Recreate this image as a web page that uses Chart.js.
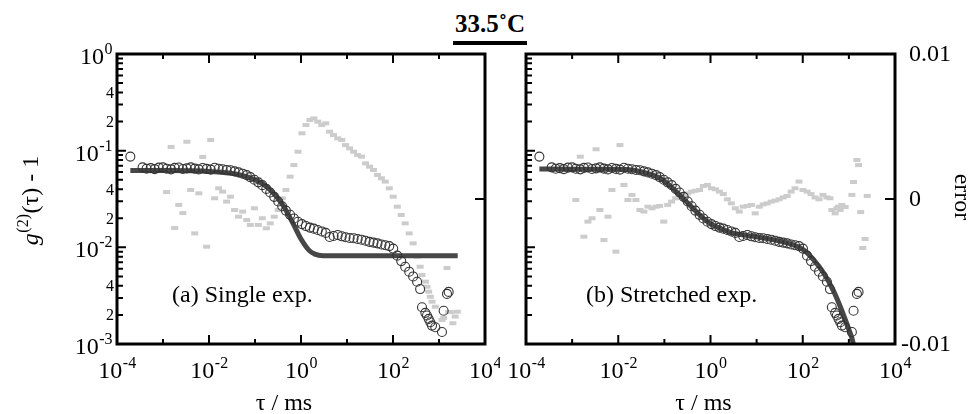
<!DOCTYPE html>
<html>
<head>
<meta charset="utf-8">
<script src="https://cdn.jsdelivr.net/npm/chart.js@4.4.1/dist/chart.umd.min.js"></script>
<style>
  html, body { margin: 0; padding: 0; background: #fff; }
  body { width: 970px; height: 414px; position: relative; overflow: hidden; font-family: "Liberation Serif", "Times New Roman", serif; }
  canvas { position: absolute; top: 0; }
  #chartA { left: 0; }
  #chartB { left: 500px; }
  #title { position: absolute; left: 445px; width: 90px; top: 11px; text-align: center; font-weight: bold; font-size: 25px; line-height: 25px; color: #000; }
  #bar { position: absolute; left: 453px; width: 74px; top: 41px; height: 4px; background: #000; }
</style>
</head>
<body>
<div id="title">33.5˚C</div>
<div id="bar"></div>
<canvas id="chartA" width="500" height="414"></canvas>
<canvas id="chartB" width="470" height="414"></canvas>
<script>
// lag time (ms) of the measured correlation function
const tau = [
  1.95e-4, 3.6e-4, 4.4e-4, 5.4e-4, 6.6e-4, 8.1e-4, 1.0e-3, 1.2e-3, 1.5e-3, 1.8e-3,
  2.2e-3, 2.7e-3, 3.3e-3, 4.0e-3, 4.9e-3, 6.0e-3, 7.3e-3, 8.9e-3, 1.09e-2, 1.33e-2,
  1.62e-2, 1.98e-2, 2.42e-2, 2.95e-2, 3.6e-2, 4.4e-2, 5.4e-2, 6.6e-2, 7.9e-2, 0.097,
  0.118, 0.144, 0.176, 0.214, 0.262, 0.32, 0.39, 0.47, 0.58, 0.70,
  0.86, 1.05, 1.28, 1.56, 1.90, 2.32, 2.83, 3.45, 4.2, 5.1,
  6.3, 7.7, 9.3, 11.4, 13.9, 17.0, 20.7, 25.3, 30.8, 37.6,
  45.9, 56, 68, 83, 101, 124, 151, 184, 225, 274,
  334, 389, 427, 505, 548, 596, 648, 705, 831, 1161,
  1262, 1493, 1622, 1800, 2000, 2250, 2500
];
// g2(tau) - 1, measured (null = below the plotted range)
const g2 = [
  0.0868, 0.0672, 0.0651, 0.0660, 0.0645, 0.0668, 0.0672, 0.0650, 0.0641, 0.0663,
  0.0669, 0.0647, 0.0656, 0.0672, 0.0652, 0.0640, 0.0661, 0.0648, 0.0637, 0.0666,
  0.0650, 0.0643, 0.0632, 0.0628, 0.0611, 0.0596, 0.0578, 0.0558, 0.0533, 0.0500,
  0.0470, 0.0440, 0.0402, 0.0369, 0.0333, 0.0298, 0.0266, 0.0240, 0.0217, 0.0199,
  0.0184, 0.0174, 0.0166, 0.0160, 0.0156, 0.0151, 0.0146, 0.0141, 0.0128, 0.0131,
  0.0134, 0.0130, 0.0127, 0.0125, 0.0124, 0.0122, 0.0120, 0.0117, 0.0114, 0.0112,
  0.0110, 0.0107, 0.0105, 0.0103, 0.0097, 0.0082, 0.0072, 0.0063, 0.0056, 0.0050,
  0.0044, 0.0037, 0.0024, 0.0021, 0.00197, 0.00182, 0.00168, 0.00155, 0.00149, 0.00133,
  0.00221, 0.0033, 0.00346, null, null, null, null
];
// residuals of the single exponential fit
const errSingle = [
  null, null, null, null, null, null, null, 0.00048, 0.00359, -0.0020,
  -0.00041, -0.00097, 0.00395, 0.00062, -0.00237, 0.00039, 0.0029, -0.00329, 0.00407, 0.00005,
  0.00074, 0.00051, -0.00018, 0.00016, -0.00076, -0.00122, -0.00087, -0.00145, -0.00179, -0.00064,
  -0.00179, -0.00133, -0.00202, -0.00168, -0.00122, -0.00076, 0.00005, 0.00062, 0.00154, 0.00234,
  0.00326, 0.00453, 0.0051, 0.00545, 0.00556, 0.00533, 0.0051, 0.00522, 0.00464, 0.00441,
  0.00418, 0.00407, 0.00372, 0.00349, 0.00326, 0.00303, 0.00292, 0.00246, 0.00223, 0.0020,
  0.00166, 0.00143, 0.0012, 0.00074, 0.00016, -0.00053, -0.0011, -0.00168, -0.00237, -0.00306,
  -0.00398, -0.00467, -0.00524, -0.0057, -0.00605, -0.00639, -0.00674, -0.00708, -0.00743, -0.00834,
  -0.0082, -0.00476, -0.00779, -0.0078, -0.00857, -0.00811, -0.00777
];
// residuals of the stretched exponential fit
const errStretched = [
  null, null, null, null, null, null, null, -0.00007, 0.00292, -0.0026,
  -0.00156, -0.00133, 0.00343, -0.00076, -0.00283, -0.00122, 0.00062, -0.00363, 0.00372, 0.00097,
  -0.00007, 0.00028, -0.00007, -0.00076, -0.00087, -0.00053, -0.00064, -0.00053, -0.00048, -0.00156,
  -0.00041, -0.00018, 0.00005, 0.00016, 0.00028, 0.00039, 0.00051, 0.00057, 0.00062, 0.0009,
  0.00097, 0.00074, 0.00067, 0.00051, 0.00034, -0.00002, -0.0003, -0.00064, -0.00087, -0.00053,
  -0.00048, -0.00041, -0.00099, -0.00053, -0.00037, -0.0003, -0.00018, -0.00011, -0.00002, 0.00011,
  0.00021, 0.00051, 0.00074, 0.0012, 0.00062, 0.00051, 0.00034, 0.00011, -0.00002, 0.00028,
  0.00011, 0.00005, -0.00076, -0.00099, -0.00064, -0.00053, -0.00076, -0.00041, -0.00055, 0.00028,
  0.00117, 0.00269, 0.00234, -0.0009, -0.00338, -0.00276, 0.00021
];
// fitted curves
const fitSingleTau = [1.95e-4, 1e-3, 1e-2, 3e-2, 5e-2, 0.1, 0.15, 0.2, 0.3, 0.4, 0.5, 0.7, 1.0, 1.5, 2.0, 3.0, 10, 100, 1000, 2550];
const fitSingleG2 = [0.0624, 0.0623, 0.0610, 0.0583, 0.0558, 0.0500, 0.0450, 0.0405, 0.0331, 0.0275, 0.0230, 0.0170, 0.0122, 0.0093, 0.0085, 0.0082, 0.0082, 0.0082, 0.0082, 0.0082];
const fitStretchedTau = [1.95e-4, 1e-3, 5e-3, 1.49e-2, 3.44e-2, 7.93e-2, 0.154, 0.300, 0.586, 0.968, 1.60, 3.11, 8.47, 23.0, 62.6, 103, 171, 281, 464, 705, 984, 1222, 1400];
const fitStretchedG2 = [0.0645, 0.0644, 0.0642, 0.0639, 0.0600, 0.0521, 0.0406, 0.0296, 0.0216, 0.0177, 0.0158, 0.0140, 0.0130, 0.0120, 0.0106, 0.00946, 0.00748, 0.00546, 0.00354, 0.00221, 0.00144, 0.00105, 0.0007];

// axes
const xDecades = [-4, -3, -2, -1, 0, 1, 2, 3, 4];
const yDecades = [-3, -2, -1, 0];
const yMinorLabels = [2, 4];
const errTicks = [-0.01, 0, 0.01];
const errTickLabels = ['-0.01', '0', '0.01'];

const MAIN = '24px "Liberation Serif", "Times New Roman", serif';
const ITAL = 'italic 24px "Liberation Serif", "Times New Roman", serif';
const SUP = '16px "Liberation Serif", "Times New Roman", serif';
const SMALL = '16px "Liberation Serif", "Times New Roman", serif';

function drawPow(ctx, exp, x, y, align) {
  ctx.font = MAIN;
  const w1 = ctx.measureText('10').width;
  ctx.font = SUP;
  const w2 = ctx.measureText(exp).width;
  const left = align === 'center' ? x - (w1 + w2) / 2 : x - (w1 + w2);
  ctx.textAlign = 'left';
  ctx.textBaseline = 'alphabetic';
  ctx.font = MAIN;
  ctx.fillText('10', left, y);
  ctx.font = SUP;
  ctx.fillText(exp, left + w1 + 0.5, y - 10);
}

const axisFrame = {
  id: 'axisFrame',
  afterDatasetsDraw(chart, args, opts) {
    const ctx = chart.ctx;
    const a = chart.chartArea;
    const xs = chart.scales.x, ys = chart.scales.y, es = chart.scales.err;
    ctx.save();
    ctx.strokeStyle = '#000';
    ctx.fillStyle = '#000';

    // inward ticks
    ctx.lineWidth = 2;
    ctx.beginPath();
    xDecades.forEach(d => {
      const px = xs.getPixelForValue(Math.pow(10, d));
      const len = d % 2 === 0 ? 9 : 5;
      ctx.moveTo(px, a.bottom); ctx.lineTo(px, a.bottom - len);
      ctx.moveTo(px, a.top); ctx.lineTo(px, a.top + len);
    });
    yDecades.forEach(d => {
      for (let m = 1; m <= 9; m++) {
        const v = m * Math.pow(10, d);
        if (v > 1.0001) break;
        const py = ys.getPixelForValue(v);
        ctx.moveTo(a.left, py); ctx.lineTo(a.left + (m === 1 ? 9 : 6), py);
      }
    });
    const p0 = es.getPixelForValue(0);
    ctx.moveTo(a.right, p0); ctx.lineTo(a.right - 10, p0);
    ctx.stroke();

    // frame
    ctx.lineWidth = 3;
    ctx.strokeRect(a.left, a.top, a.right - a.left, a.bottom - a.top);

    // x tick labels
    xDecades.forEach(d => {
      if (d % 2 !== 0) return;
      drawPow(ctx, String(d), xs.getPixelForValue(Math.pow(10, d)), a.bottom + 34, 'center');
    });

    // left tick labels
    if (opts.leftLabels) {
      yDecades.forEach(d => {
        drawPow(ctx, String(d), a.left - 5, ys.getPixelForValue(Math.pow(10, d)) + 10, 'right');
        if (d < 0) {
          yMinorLabels.forEach(m => {
            ctx.font = SMALL;
            ctx.textAlign = 'right';
            ctx.fillText(String(m), a.left - 3, ys.getPixelForValue(m * Math.pow(10, d)) + 5.5);
          });
        }
      });
      // y title
      ctx.save();
      ctx.translate(38, (a.top + a.bottom) / 2 + 2);
      ctx.rotate(-Math.PI / 2);
      ctx.font = ITAL; const wg = ctx.measureText('g').width;
      ctx.font = SUP; const ws = ctx.measureText('(2)').width;
      ctx.font = MAIN; const wr = ctx.measureText('(τ) - 1').width;
      let x0 = -(wg + ws + wr) / 2;
      ctx.textAlign = 'left';
      ctx.font = ITAL; ctx.fillText('g', x0, 0);
      ctx.font = SUP; ctx.fillText('(2)', x0 + wg + 0.5, -10);
      ctx.font = MAIN; ctx.fillText('(τ) - 1', x0 + wg + ws + 1, 0);
      ctx.restore();
    }

    // right tick labels
    if (opts.rightLabels) {
      ctx.font = MAIN;
      ctx.textAlign = 'left';
      errTicks.forEach((v, i) => {
        const txt = errTickLabels[i];
        let x = a.right + 14;
        if (txt.charAt(0) === '-') x -= ctx.measureText('-').width;
        ctx.fillText(txt, x, es.getPixelForValue(v) + 7);
      });
      ctx.save();
      ctx.translate(a.right + 66, (a.top + a.bottom) / 2 - 2);
      ctx.rotate(Math.PI / 2);
      ctx.textAlign = 'center';
      ctx.textBaseline = 'middle';
      ctx.fillText('error', 0, 0);
      ctx.restore();
    }

    // panel text and x title
    ctx.font = MAIN;
    ctx.textAlign = 'left';
    ctx.textBaseline = 'alphabetic';
    ctx.fillText(opts.panelText, a.left + opts.panelShift, 302);
    ctx.textAlign = 'center';
    ctx.fillText('τ / ms', (a.left + a.right) / 2 + opts.xTitleShift, 410);
    ctx.restore();
  }
};

function makeChart(id, fitTau, fitG2, err, padding, frameOpts) {
  const circles = [];
  tau.forEach((t, i) => { if (g2[i] !== null) circles.push({ x: t, y: g2[i] }); });
  const resid = [];
  tau.forEach((t, i) => { if (err[i] !== null) resid.push({ x: t, y: err[i] }); });
  const fit = fitTau.map((t, i) => ({ x: t, y: fitG2[i] }));

  return new Chart(document.getElementById(id).getContext('2d'), {
    type: 'scatter',
    data: {
      datasets: [
        {
          data: circles, xAxisID: 'x', yAxisID: 'y',
          pointStyle: 'circle', pointRadius: 4.5, pointBorderWidth: 1.1,
          borderColor: '#333333', backgroundColor: 'rgba(255,255,255,0)', clip: false
        },
        {
          data: fit, xAxisID: 'x', yAxisID: 'y', showLine: true,
          pointRadius: 0, borderColor: '#474747', borderWidth: 5,
          cubicInterpolationMode: 'monotone', clip: 0
        },
        {
          data: resid, xAxisID: 'x', yAxisID: 'err',
          pointStyle: 'line', pointRadius: 3.5, pointBorderWidth: 4,
          borderColor: '#cccccc', backgroundColor: '#cccccc'
        }
      ]
    },
    options: {
      responsive: false,
      animation: false,
      events: [],
      layout: { padding: padding },
      scales: {
        x: { type: 'logarithmic', min: 1e-4, max: 1e4, display: false },
        y: { type: 'logarithmic', min: 1e-3, max: 1, display: false },
        err: { type: 'linear', min: -0.01, max: 0.01, display: false, position: 'right' }
      },
      plugins: {
        legend: { display: false },
        tooltip: { enabled: false },
        axisFrame: frameOpts
      }
    },
    plugins: [axisFrame]
  });
}

makeChart('chartA', fitSingleTau, fitSingleG2, errSingle,
  { left: 117, right: 15, top: 54, bottom: 70 },
  { leftLabels: true, rightLabels: false, panelText: '(a) Single exp.', panelShift: 55, xTitleShift: -17 });
makeChart('chartB', fitStretchedTau, fitStretchedG2, errStretched,
  { left: 26, right: 75, top: 54, bottom: 70 },
  { leftLabels: false, rightLabels: true, panelText: '(b) Stretched exp.', panelShift: 60, xTitleShift: -7 });
</script>
</body>
</html>
